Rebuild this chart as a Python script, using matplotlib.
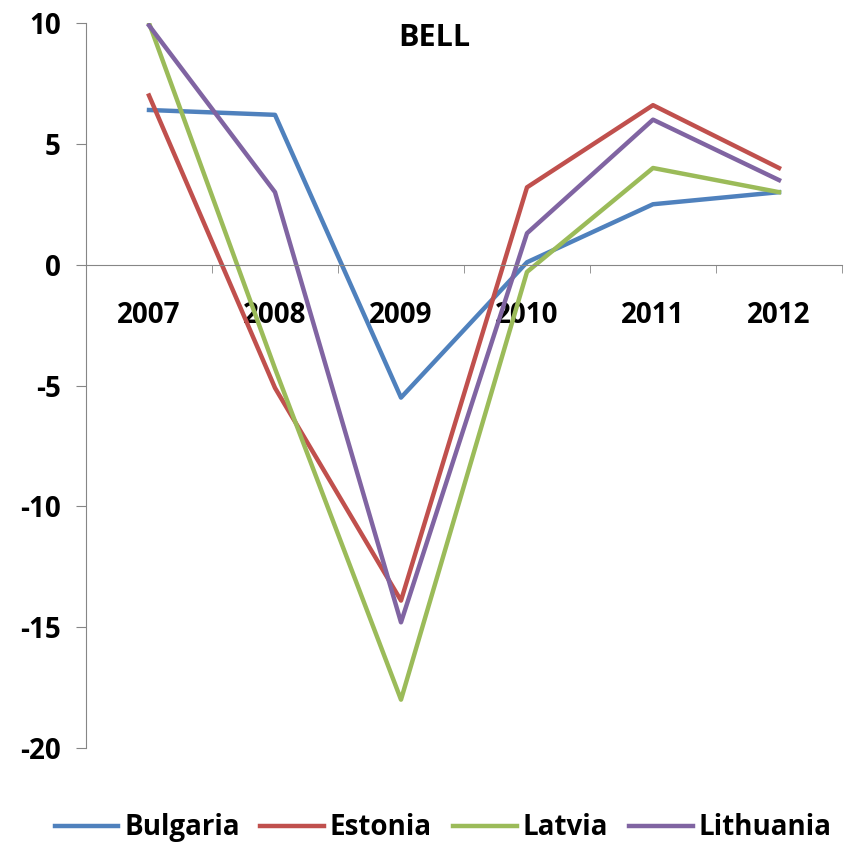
import numpy as np
import matplotlib.pyplot as plt
from matplotlib.ticker import FixedLocator

# Data
years = ['2007', '2008', '2009', '2010', '2011', '2012']
bulgaria = [6.4, 6.2, -5.5, 0.1, 2.5, 3.0]
estonia = [7.0, -5.1, -13.9, 3.2, 6.6, 4.0]
latvia = [10.0, -4.3, -18.0, -0.3, 4.0, 3.0]
lithuania = [9.9, 3.0, -14.8, 1.3, 6.0, 3.5]

series = [('Bulgaria', bulgaria, '#4F81BD'),
          ('Estonia', estonia, '#C0504D'),
          ('Latvia', latvia, '#9BBB59'),
          ('Lithuania', lithuania, '#8064A2')]

plt.rcParams['font.family'] = ['Open Sans', 'DejaVu Sans']
plt.rcParams['font.weight'] = 'bold'

fig = plt.figure(figsize=(8.44, 8.49), dpi=100)
ax = fig.add_axes([86 / 844, 1 - 748 / 849, 756 / 844, 725 / 849])

x = np.arange(len(years))
for name, vals, col in series:
    ax.plot(x, vals, color=col, lw=3.2, label=name)

ax.set_xlim(-0.5, len(years) - 0.5)
ax.set_ylim(-20, 10)
ax.set_yticks([-20, -15, -10, -5, 0, 5, 10])
ax.set_yticklabels(['-20', '-15', '-10', '-5', '0', '5', '10'])

ax.set_xticks(x)
ax.set_xticklabels(years)
ax.xaxis.set_minor_locator(FixedLocator(np.arange(-0.5, len(years), 1.0)))

for s in ['top', 'right']:
    ax.spines[s].set_visible(False)
ax.spines['bottom'].set_position(('data', 0))
ax.spines['bottom'].set_color('#868686')
ax.spines['left'].set_color('#868686')

ax.tick_params(axis='x', which='major', length=0, pad=26, labelsize=20)
ax.tick_params(axis='x', which='minor', length=6, color='#868686', direction='out')
ax.tick_params(axis='y', length=7, color='#868686', pad=11, labelsize=20)

ax.text(0.461, 0.98, 'BELL', transform=ax.transAxes, ha='center', va='center',
        fontsize=22, fontweight='bold')

ax.legend(loc='center', bbox_to_anchor=(0.472, -0.11), ncol=4, frameon=False,
          fontsize=20, handlelength=2.3, handletextpad=0.2, columnspacing=0.75)

fig.savefig('out.png', dpi=100)
